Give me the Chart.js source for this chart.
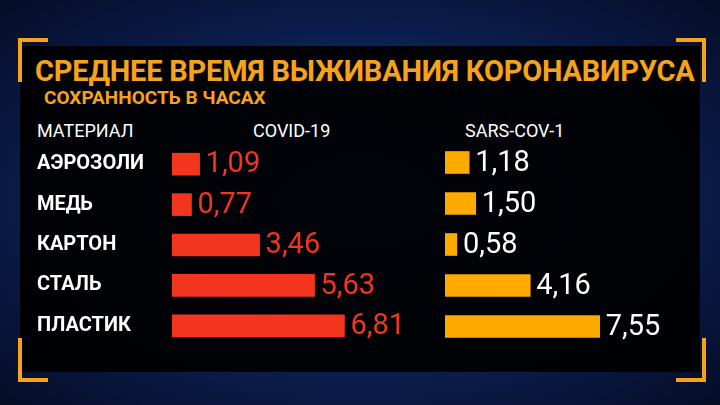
<!DOCTYPE html>
<html><head><meta charset="utf-8">
<script src="https://cdn.jsdelivr.net/npm/chart.js@4"></script>
<style>
body{margin:0;width:720px;height:405px;overflow:hidden;background:radial-gradient(ellipse at 50% 50%,#1c3f8a 0%,#0b1d4d 60%,#050d26 100%);font-family:Roboto,"Liberation Sans",sans-serif;position:relative}
#panel{position:absolute;left:20px;top:46px;width:680px;height:326px;background:rgba(0,0,0,0.93)}
.br{position:absolute;width:26px;height:40px;border-color:#f7a21b;border-style:solid;border-width:0}
.t{position:absolute;color:#f7a21b;font-weight:bold;white-space:nowrap}
.h{position:absolute;color:#fff;font-size:18px;white-space:nowrap}
canvas{position:absolute}
</style></head><body>
<div id="panel"></div>
<div class="br" style="left:18px;top:38px;border-left-width:4px;border-top-width:4px"></div>
<div class="br" style="left:676px;top:38px;border-right-width:4px;border-top-width:4px"></div>
<div class="br" style="left:18px;top:338px;border-left-width:4px;border-bottom-width:4px"></div>
<div class="br" style="left:676px;top:338px;border-right-width:4px;border-bottom-width:4px"></div>
<div class="t" style="left:35px;top:54px;font-size:29px;letter-spacing:-0.2px">СРЕДНЕЕ ВРЕМЯ ВЫЖИВАНИЯ КОРОНАВИРУСА</div>
<div class="t" style="left:44px;top:86px;font-size:19px">СОХРАННОСТЬ В ЧАСАХ</div>
<div class="h" style="left:37px;top:120px">МАТЕРИАЛ</div>
<div class="h" style="left:253px;top:120px">COVID-19</div>
<div class="h" style="left:465px;top:120px">SARS-COV-1</div>
<canvas id="c1" style="left:37px;top:132px"></canvas>
<canvas id="c2" style="left:445px;top:142px"></canvas>
<script>
var categories = ["АЭРОЗОЛИ", "МЕДЬ", "КАРТОН", "СТАЛЬ", "ПЛАСТИК"];
var covid19 = [1.09, 0.77, 3.46, 5.63, 6.81];
var sarsCov1 = [1.18, 1.50, 0.58, 4.16, 7.55];

var valueLabels = {
  id: 'valueLabels',
  afterDatasetsDraw: function (chart) {
    var ctx = chart.ctx;
    var ds = chart.data.datasets[0];
    ctx.save();
    ctx.font = '29px Roboto, sans-serif';
    ctx.fillStyle = ds.labelColor;
    ctx.textBaseline = 'middle';
    chart.getDatasetMeta(0).data.forEach(function (bar, i) {
      ctx.fillText(ds.data[i].toFixed(2).replace('.', ','), bar.x + 6, bar.y + 1);
    });
    ctx.restore();
  }
};

function makeChart(id, w, h, values, color, labelColor, max, showCats) {
  var el = document.getElementById(id);
  el.width = w; el.height = h;
  el.style.width = w + 'px'; el.style.height = h + 'px';
  return new Chart(el, {
    type: 'bar',
    data: {
      labels: categories,
      datasets: [{ data: values, backgroundColor: color, barThickness: 22, labelColor: labelColor }]
    },
    options: {
      indexAxis: 'y',
      responsive: false,
      animation: false,
      layout: { padding: 0 },
      plugins: { legend: { display: false }, tooltip: { enabled: false } },
      scales: {
        x: { display: false, min: 0, max: max },
        y: {
          display: showCats,
          grid: { display: false },
          border: { display: false },
          afterFit: function (s) { if (showCats) s.width = 135; },
          ticks: { color: '#fff', crossAlign: 'far', padding: 0, font: { size: 20, family: 'Roboto', weight: 'bold' } }
        }
      }
    },
    plugins: [valueLabels]
  });
}

makeChart('c1', 373, 226, covid19, '#f2351c', '#f2351c', 9.4, true);
makeChart('c2', 250, 205, sarsCov1, '#ffaa00', '#ffffff', 12.2, false);
</script>
</body></html>
